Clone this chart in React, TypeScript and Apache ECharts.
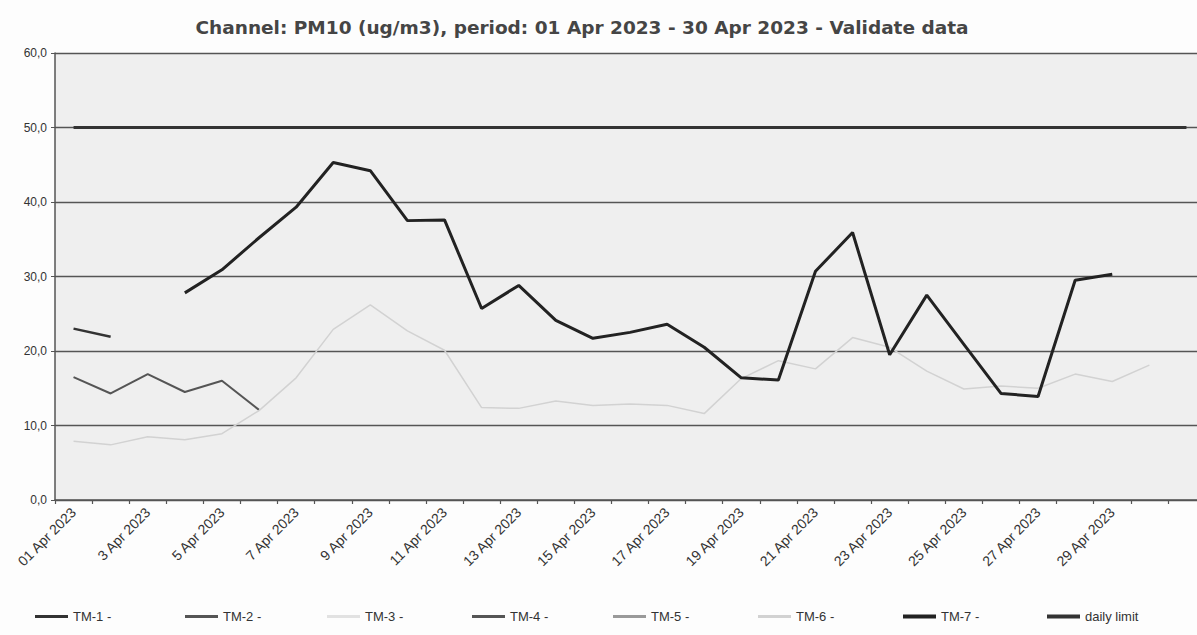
import React, { useEffect, useRef } from "react";
import * as echarts from "echarts";

const days: string[] = [
  "01 Apr 2023", "2 Apr 2023", "3 Apr 2023", "4 Apr 2023", "5 Apr 2023", "6 Apr 2023",
  "7 Apr 2023", "8 Apr 2023", "9 Apr 2023", "10 Apr 2023", "11 Apr 2023", "12 Apr 2023",
  "13 Apr 2023", "14 Apr 2023", "15 Apr 2023", "16 Apr 2023", "17 Apr 2023", "18 Apr 2023",
  "19 Apr 2023", "20 Apr 2023", "21 Apr 2023", "22 Apr 2023", "23 Apr 2023", "24 Apr 2023",
  "25 Apr 2023", "26 Apr 2023", "27 Apr 2023", "28 Apr 2023", "29 Apr 2023", "30 Apr 2023",
  "",
];

const tm1: (number | null)[] = [23.0, 21.9, null, null, null, null, null, null, null, null, null, null, null, null, null, null, null, null, null, null, null, null, null, null, null, null, null, null, null, null, null];
const tm2: (number | null)[] = [16.5, 14.3, 16.9, 14.5, 16.0, 12.1, null, null, null, null, null, null, null, null, null, null, null, null, null, null, null, null, null, null, null, null, null, null, null, null, null];
const tm3: (number | null)[] = [];
const tm4: (number | null)[] = [];
const tm5: (number | null)[] = [];
const tm6: (number | null)[] = [7.9, 7.4, 8.5, 8.1, 8.9, 12.0, 16.4, 22.9, 26.2, 22.7, 20.1, 12.4, 12.3, 13.3, 12.7, 12.9, 12.7, 11.6, 16.3, 18.7, 17.6, 21.8, 20.5, 17.3, 14.9, 15.3, 15.0, 16.9, 15.9, 18.1, null];
const tm7: (number | null)[] = [null, null, null, 27.8, 30.9, 35.2, 39.3, 45.3, 44.2, 37.5, 37.6, 25.7, 28.8, 24.1, 21.7, 22.5, 23.6, 20.5, 16.4, 16.1, 30.7, 35.9, 19.5, 27.5, 20.9, 14.3, 13.9, 29.5, 30.3, null, null];
const dailyLimit: number[] = [50, 50, 50, 50, 50, 50, 50, 50, 50, 50, 50, 50, 50, 50, 50, 50, 50, 50, 50, 50, 50, 50, 50, 50, 50, 50, 50, 50, 50, 50, 50];

const seriesNames = ["TM-1 -", "TM-2 -", "TM-3 -", "TM-4 -", "TM-5 -", "TM-6 -", "TM-7 -", "daily limit"];
const seriesData = [tm1, tm2, tm3, tm4, tm5, tm6, tm7, dailyLimit];
const seriesColors = ["#333333", "#555555", "#e2e2e2", "#555555", "#9a9a9a", "#d2d2d2", "#222222", "#333333"];
const seriesWidths = [2.5, 2, 1.5, 2, 2, 1.5, 3, 3];
const legendLefts = [35, 185, 327, 472, 613, 758, 903, 1047];

export default function App() {
  const ref = useRef<HTMLDivElement>(null);
  useEffect(() => {
    if (!ref.current) return;
    const chart = echarts.init(ref.current, undefined, { renderer: "svg" });
    const font = "'Liberation Sans', Arial, sans-serif";
    chart.setOption({
      animation: false,
      backgroundColor: "#fdfdfd",
      title: {
        text: "Channel: PM10 (ug/m3), period: 01 Apr 2023 - 30 Apr 2023 - Validate data",
        left: 582,
        top: 18,
        textAlign: "center",
        padding: 0,
        textStyle: {
          fontFamily: "'DejaVu Sans', sans-serif",
          fontWeight: "bold",
          fontSize: 18.5,
          color: "#454545",
        },
      },
      legend: seriesNames.map((n, i) => ({
        left: legendLefts[i],
        top: 610,
        padding: 0,
        data: [n],
        icon: "rect",
        itemWidth: 33,
        itemHeight: i === 6 || i === 7 ? 4 : 3,
        itemGap: 5,
        selectedMode: false,
        textStyle: { fontFamily: font, fontSize: 13, color: "#333333" },
      })),
      grid: { left: 55, top: 53, width: 1150, height: 447, show: true, backgroundColor: "#efefef", borderWidth: 0 },
      xAxis: {
        type: "category",
        data: days,
        boundaryGap: true,
        axisLine: { show: true, lineStyle: { color: "#555555", width: 1.5 } },
        axisTick: { show: true, interval: 0, length: 4, lineStyle: { color: "#555555", width: 1.2 } },
        axisLabel: {
          interval: 1,
          rotate: 45,
          margin: 10,
          fontFamily: font,
          fontSize: 14,
          color: "#333333",
        },
        splitLine: { show: false },
      },
      yAxis: {
        type: "value",
        min: 0,
        max: 60,
        interval: 10,
        axisLine: { show: true, lineStyle: { color: "#555555", width: 1.5 } },
        axisTick: { show: true, length: 4, lineStyle: { color: "#555555" } },
        axisLabel: {
          margin: 8,
          fontFamily: font,
          fontSize: 12,
          color: "#333333",
          formatter: (v: number) => v.toFixed(1).replace(".", ","),
        },
        splitLine: { show: true, lineStyle: { color: "#555555", width: 1.3 } },
      },
      series: seriesNames.map((n, i) => ({
        name: n,
        type: "line",
        data: seriesData[i].length ? seriesData[i] : days.map(() => null),
        symbol: "none",
        connectNulls: false,
        color: seriesColors[i],
        lineStyle: { color: seriesColors[i], width: seriesWidths[i] },
        z: i === 5 ? 3 : i === 6 || i === 7 ? 4 : 2,
      })),
    });
    return () => chart.dispose();
  }, []);
  return (
    <div style={{ position: "absolute", left: 0, top: 0, width: 1197, height: 635, overflow: "hidden" }}>
      <div ref={ref} style={{ width: 1215, height: 635 }} />
    </div>
  );
}
